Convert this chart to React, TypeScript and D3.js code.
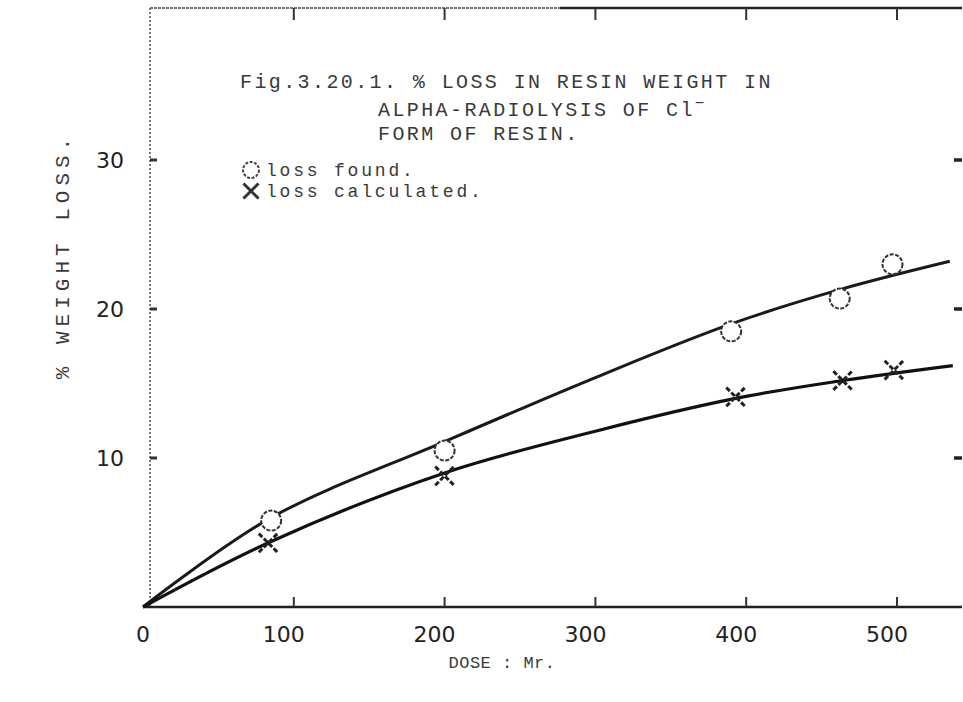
import React from "react";
import * as d3 from "d3";

// Dose (Mr) and % weight loss for the Cl- form of the resin
const foundDose = [85, 200, 390, 462, 497];
const foundLoss = [5.8, 10.5, 18.5, 20.7, 23.0];
const calcDose = [83, 200, 393, 464, 498];
const calcLoss = [4.3, 8.8, 14.1, 15.2, 15.9];

// Smoothed curves drawn through each series
const foundCurveDose = [0, 85, 200, 300, 390, 462, 535];
const foundCurveLoss = [0, 6.0, 11.1, 15.4, 19.0, 21.3, 23.2];
const calcCurveDose = [0, 85, 200, 300, 393, 464, 537];
const calcCurveLoss = [0, 4.4, 9.0, 11.8, 14.0, 15.2, 16.2];

const xTicks = [0, 100, 200, 300, 400, 500];
const yTicks = [10, 20, 30];

const titleLines = [
  "Fig.3.20.1. % LOSS IN RESIN WEIGHT IN",
  "ALPHA-RADIOLYSIS OF Cl",
  "FORM OF RESIN.",
];

const W = 963;
const H = 702;
const TYPE = "'Liberation Mono', 'DejaVu Sans Mono', monospace";
const LETTER = "'DejaVu Sans', 'Liberation Sans', sans-serif";
const INK = "#3a3a3a";

export default function App() {
  const x = d3.scaleLinear().domain([0, 500]).range([143, 897]);
  const y = d3.scaleLinear().domain([0, 30]).range([607, 160]);

  const left = 150;
  const right = 962;
  const top = 8;
  const bottom = y(0);

  const line = d3
    .line<[number, number]>()
    .x((d) => x(d[0]))
    .y((d) => y(d[1]))
    .curve(d3.curveCatmullRom.alpha(0.5));

  const foundCurve = foundCurveDose.map((d, i) => [d, foundCurveLoss[i]] as [number, number]);
  const calcCurve = calcCurveDose.map((d, i) => [d, calcCurveLoss[i]] as [number, number]);

  const cross = d3.symbol(d3.symbolX, 230)() as string;
  const legendCross = d3.symbol(d3.symbolX, 150)() as string;

  return (
    <svg
      width={W}
      height={H}
      style={{ position: "absolute", left: 0, top: 0, background: "#fff" }}
    >
      {/* frame */}
      <line x1={left} x2={560} y1={top} y2={top} stroke="#777" strokeWidth={2} strokeDasharray="3 1" />
      <line x1={560} x2={right} y1={top} y2={top} stroke="#222" strokeWidth={2.5} />
      <line x1={left} x2={left} y1={top} y2={bottom} stroke="#777" strokeWidth={2} strokeDasharray="2 2" />
      <line x1={143} x2={right} y1={bottom} y2={bottom} stroke="#222" strokeWidth={2.5} />

      {/* tick marks on all sides */}
      {xTicks.filter((t) => t > 0).map((t) => (
        <g key={"xt" + t}>
          <line x1={x(t)} x2={x(t)} y1={bottom} y2={bottom - 10} stroke="#333" strokeWidth={2} />
          <line x1={x(t)} x2={x(t)} y1={top} y2={top + 12} stroke="#333" strokeWidth={2} />
        </g>
      ))}
      {yTicks.map((t) => (
        <g key={"yt" + t}>
          <line x1={left} x2={left + 7} y1={y(t)} y2={y(t)} stroke="#333" strokeWidth={3} />
          <line x1={right - 8} x2={right} y1={y(t)} y2={y(t)} stroke="#222" strokeWidth={3.5} />
        </g>
      ))}

      {/* tick labels */}
      {xTicks.map((t) => (
        <text
          key={"xl" + t}
          x={t === 0 ? x(t) : x(t) - 10}
          y={642}
          textAnchor="middle"
          fontFamily={LETTER}
          fontSize={22}
          fill="#222"
        >
          {t}
        </text>
      ))}
      {yTicks.map((t) => (
        <text
          key={"yl" + t}
          x={110}
          y={y(t) + 8}
          textAnchor="middle"
          fontFamily={LETTER}
          fontSize={22}
          fill="#222"
        >
          {t}
        </text>
      ))}

      {/* axis titles */}
      <text x={502} y={668} textAnchor="middle" fontFamily={TYPE} fontSize={17} letterSpacing={0.5} fill={INK}>
        DOSE : Mr.
      </text>
      <text
        transform={`translate(69, 256) rotate(-90)`}
        textAnchor="middle"
        fontFamily={TYPE}
        fontSize={21}
        letterSpacing={5}
        fill={INK}
      >
        % WEIGHT LOSS.
      </text>

      {/* title */}
      <text x={240} y={88} fontFamily={TYPE} fontSize={20} letterSpacing={2.4} fill={INK}>
        {titleLines[0]}
      </text>
      <text x={378} y={116} fontFamily={TYPE} fontSize={20} letterSpacing={2.4} fill={INK}>
        {titleLines[1]}
        <tspan dy={-8} fontSize={16}>−</tspan>
      </text>
      <text x={378} y={140} fontFamily={TYPE} fontSize={20} letterSpacing={2.4} fill={INK}>
        {titleLines[2]}
      </text>

      {/* legend */}
      <circle cx={251} cy={170} r={8} fill="none" stroke="#444" strokeWidth={2} strokeDasharray="3 1.5" />
      <text x={266} y={176} fontFamily={TYPE} fontSize={18} letterSpacing={2.8} fill={INK}>
        loss found.
      </text>
      <path d={legendCross} transform="translate(251,191)" fill="none" stroke="#333" strokeWidth={3} />
      <text x={266} y={197} fontFamily={TYPE} fontSize={18} letterSpacing={2.8} fill={INK}>
        loss calculated.
      </text>

      {/* fitted curves */}
      <path d={line(foundCurve) as string} fill="none" stroke="#1a1a1a" strokeWidth={3} />
      <path d={line(calcCurve) as string} fill="none" stroke="#111" strokeWidth={3.2} />

      {/* measured points */}
      {foundDose.map((d, i) => (
        <circle
          key={"f" + i}
          cx={x(d)}
          cy={y(foundLoss[i])}
          r={10}
          fill="#fff"
          stroke="#333"
          strokeWidth={2}
          strokeDasharray="4 1.5"
        />
      ))}
      {calcDose.map((d, i) => (
        <path
          key={"c" + i}
          d={cross}
          transform={`translate(${x(d)},${y(calcLoss[i])})`}
          fill="none"
          stroke="#222"
          strokeWidth={3}
          strokeDasharray="5 2"
        />
      ))}
    </svg>
  );
}
